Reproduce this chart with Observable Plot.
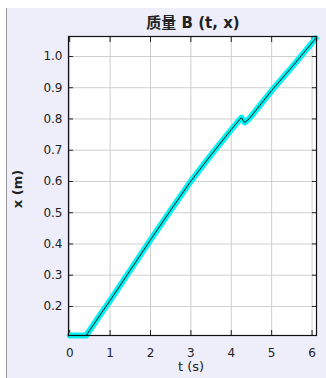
<!DOCTYPE html>
<html>
<head>
<meta charset="utf-8">
<script src="https://cdn.jsdelivr.net/npm/d3@7"></script>
<script src="https://cdn.jsdelivr.net/npm/@observablehq/plot@0.6"></script>
<style>
  html, body { margin: 0; padding: 0; background: #ffffff; }
  #wrap { position: absolute; left: 6px; top: 8px; width: 320px; height: 370px;
          background: #eeeefa; border-left: 1px solid #9a9a9a; overflow: hidden;
          font-family: "DejaVu Sans", sans-serif; color: #222; }
  #chart { position: absolute; left: 0; top: 0; }
  .title { position: absolute; left: 0; width: 372px; top: 3px; text-align: center;
           font: bold 15px "DejaVu Sans", "Noto Sans CJK SC", sans-serif; color: #222; }
  .xlabel { position: absolute; left: 0; width: 368px; top: 351px; text-align: center;
            font: 13px "DejaVu Sans", sans-serif; color: #222; line-height: 15px; }
  .ylabel { position: absolute; left: 10px; top: 181px; width: 0; height: 0; }
  .ylabel span { position: absolute; white-space: nowrap; transform: translate(-50%, -50%) rotate(-90deg);
                 font: bold 13px "DejaVu Sans", sans-serif; color: #222; }
</style>
</head>
<body>
<div id="wrap">
  <div id="chart"></div>
  <div class="title">质量 B (t, x)</div>
  <div class="xlabel">t (s)</div>
  <div class="ylabel"><span>x (m)</span></div>
</div>
<script>
// data
const tValues = [0, 0.41, 0.7, 1.0, 1.5, 2.0, 2.5, 3.0, 3.5, 4.0, 4.2, 4.25, 4.33, 4.44, 5.0, 5.5, 6.09];
const xValues = [0.107, 0.107, 0.163, 0.219, 0.316, 0.413, 0.508, 0.601, 0.685, 0.766, 0.797, 0.804, 0.789, 0.800, 0.891, 0.966, 1.058];
const xTicks = [0, 1, 2, 3, 4, 5, 6];
const yTicks = [0.2, 0.3, 0.4, 0.5, 0.6, 0.7, 0.8, 0.9, 1.0];

const data = tValues.map((t, i) => ({t, x: xValues[i]}));

const chart = Plot.plot({
  width: 319,
  height: 370,
  marginLeft: 61,
  marginRight: 10,
  marginTop: 28,
  marginBottom: 43,
  style: {background: "transparent", fontFamily: "DejaVu Sans, sans-serif", fontSize: "12px", color: "#222"},
  x: {domain: [-0.03, 6.11], label: null},
  y: {domain: [0.107, 1.064], label: null},
  marks: [
    Plot.frame({fill: "white"}),
    Plot.gridX(xTicks, {stroke: "#cfcfcf", strokeOpacity: 1}),
    Plot.gridY(yTicks, {stroke: "#cfcfcf", strokeOpacity: 1}),
    Plot.axisX(xTicks, {anchor: "bottom", tickSize: 0, tickPadding: 13, label: null, fontSize: 12}),
    Plot.axisX(xTicks, {anchor: "bottom", tickSize: -5, text: null, label: null}),
    Plot.axisX(xTicks, {anchor: "top", tickSize: -5, text: null, label: null}),
    Plot.axisY(yTicks, {anchor: "left", tickSize: 0, tickPadding: 6, label: null, tickFormat: d3.format(".1f"), fontSize: 12}),
    Plot.axisY(yTicks, {anchor: "left", tickSize: -5, text: null, label: null}),
    Plot.axisY(yTicks, {anchor: "right", tickSize: -5, text: null, label: null}),
    Plot.line(data, {x: "t", y: "x", stroke: "#00f2f2", strokeWidth: 6, strokeLinejoin: "round"}),
    Plot.line(data, {x: "t", y: "x", stroke: "#111", strokeWidth: 1}),
    Plot.frame({stroke: "#111", strokeWidth: 1.2})
  ]
});
document.getElementById("chart").appendChild(chart);
</script>
</body>
</html>
